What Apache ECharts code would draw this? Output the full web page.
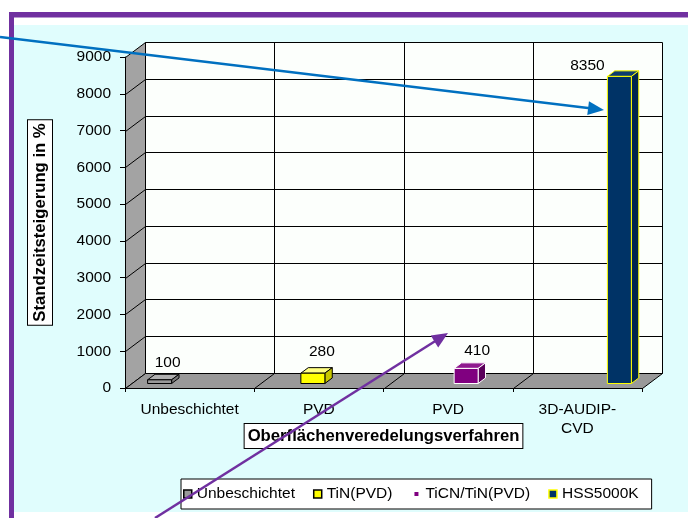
<!DOCTYPE html>
<html>
<head>
<meta charset="utf-8">
<script src="https://cdn.jsdelivr.net/npm/echarts@6/dist/echarts.min.js"></script>
<style>
  html, body { margin: 0; padding: 0; background: #fff; }
  #chart { width: 688px; height: 518px; }
</style>
</head>
<body>
<div id="chart"></div>
<script>
// ---- data ----
const categories = ['Unbeschichtet', 'PVD', 'PVD', '3D-AUDIP-\nCVD'];
const seriesNames = ['Unbeschichtet', 'TiN(PVD)', 'TiCN/TiN(PVD)', 'HSS5000K'];
const unbeschichtet = [100, null, null, null];
const tinPvd = [null, 280, null, null];
const ticnTinPvd = [null, null, 410, null];
const hss5000k = [null, null, null, 8350];
const seriesValues = [unbeschichtet, tinPvd, ticnTinPvd, hss5000k];
const yMin = 0, yMax = 9000, yStep = 1000;
const yAxisTitle = 'Standzeitsteigerung in %';
const xAxisTitle = 'Oberflächenveredelungsverfahren';

// ---- look ----
const FONT = '"Liberation Sans", Arial, sans-serif';
const DX = 20, DY = -15;          // depth of the walls / floor
const F0 = 0.3, F1 = 0.67;        // front/back depth of the columns
const SLOT = 0.1857;              // column width as part of a category band
const BAR_STYLE = [
  { front: '#999999', top: '#b0b0b0', side: '#7a7a7a', edge: '#000000' },
  { front: '#ffff00', top: '#ffff80', side: '#c8c800', edge: '#000000' },
  { front: '#800080', top: '#8f1a8f', side: '#5a005a', edge: '#ffffff' },
  { front: '#003366', top: '#0d3d6e', side: '#00264d', edge: '#ffff00' }
];
const LABEL_OFFSET = [[14, -22], [15, -26], [17, -22], [-26, -15]];

const px = v => Math.round(v) + 0.5;

function line(x1, y1, x2, y2, color) {
  return { type: 'line', shape: { x1: px(x1), y1: px(y1), x2: px(x2), y2: px(y2) },
           style: { stroke: color || '#000', lineWidth: 1 } };
}

function renderFrame(params, api) {
  const band = api.size([1, 0])[0];
  const n = categories.length;
  const left = api.coord([0, yMin])[0] - band / 2;
  const right = left + band * n;
  const yb = api.coord([0, yMin])[1];
  const yt = api.coord([0, yMax])[1];
  const ch = [];
  // back wall
  ch.push({ type: 'polygon',
    shape: { points: [[px(left + DX), px(yt + DY)], [px(right + DX), px(yt + DY)],
                      [px(right + DX), px(yb + DY)], [px(left + DX), px(yb + DY)]] },
    style: { fill: '#fcfffc', stroke: '#000', lineWidth: 1 } });
  for (let v = yMin + yStep; v < yMax; v += yStep) {
    const y = api.coord([0, v])[1];
    ch.push(line(left + DX, y + DY, right + DX, y + DY));
  }
  for (let k = 1; k < n; k++) {
    const x = left + band * k;
    ch.push(line(x + DX, yt + DY, x + DX, yb + DY));
  }
  // side wall
  ch.push({ type: 'polygon',
    shape: { points: [[px(left), px(yb)], [px(left), px(yt)], [px(left + DX), px(yt + DY)], [px(left + DX), px(yb + DY)]] },
    style: { fill: '#a3a3a3', stroke: '#000', lineWidth: 1 } });
  for (let v = yMin + yStep; v < yMax; v += yStep) {
    const y = api.coord([0, v])[1];
    ch.push(line(left, y, left + DX, y + DY));
  }
  // floor
  ch.push({ type: 'polygon',
    shape: { points: [[px(left), px(yb)], [px(right), px(yb)], [px(right + DX), px(yb + DY)], [px(left + DX), px(yb + DY)]] },
    style: { fill: '#999999', stroke: '#000', lineWidth: 1 } });
  for (let k = 1; k < n; k++) {
    const x = left + band * k;
    ch.push(line(x, yb, x + DX, yb + DY));
  }
  return { type: 'group', children: ch };
}

function makeColumn(s) {
  const st = BAR_STYLE[s];
  return function (params, api) {
    const i = api.value(0), v = api.value(1);
    const band = api.size([1, 0])[0];
    const w = band * SLOT;
    const base = api.coord([i, yMin]);
    const top = api.coord([i, v]);
    const x0 = base[0] - 2 * w + s * w, x1 = x0 + w;
    const fx = DX * F0, fy = DY * F0, bx = DX * F1, by = DY * F1;
    const yb = base[1], yt = top[1];
    const edge = { stroke: st.edge, lineWidth: 1 };
    return { type: 'group', children: [
      { type: 'polygon', shape: { points: [[x0 + fx, yt + fy], [x1 + fx, yt + fy], [x1 + bx, yt + by], [x0 + bx, yt + by]] },
        style: Object.assign({ fill: st.top }, edge) },
      { type: 'polygon', shape: { points: [[x1 + fx, yt + fy], [x1 + bx, yt + by], [x1 + bx, yb + by], [x1 + fx, yb + fy]] },
        style: Object.assign({ fill: st.side }, edge) },
      { type: 'polygon', shape: { points: [[x0 + fx, yt + fy], [x1 + fx, yt + fy], [x1 + fx, yb + fy], [x0 + fx, yb + fy]] },
        style: Object.assign({ fill: st.front }, edge) },
      { type: 'text', x: (x0 + x1) / 2 + LABEL_OFFSET[s][0], y: yt + LABEL_OFFSET[s][1],
        style: { text: String(v), fill: '#000', font: '15.5px ' + FONT, align: 'center', verticalAlign: 'middle' } }
    ] };
  };
}

function arrow(x1, y1, x2, y2, color) {
  const a = Math.atan2(y2 - y1, x2 - x1);
  const len = 16, half = 7;
  const bx = x2 - len * Math.cos(a), by = y2 - len * Math.sin(a);
  const nx = -Math.sin(a), ny = Math.cos(a);
  return [
    { type: 'line', z: 100, shape: { x1: x1, y1: y1, x2: bx + 2 * Math.cos(a), y2: by + 2 * Math.sin(a) },
      style: { stroke: color, lineWidth: 2.5 } },
    { type: 'polygon', z: 100, shape: { points: [[x2, y2], [bx + nx * half, by + ny * half], [bx - nx * half, by - ny * half]] },
      style: { fill: color } }
  ];
}

const chart = echarts.init(document.getElementById('chart'), null, { renderer: 'canvas' });

const series = [{
  type: 'custom', coordinateSystem: 'cartesian2d', data: [[0, 0]], z: 1, silent: true, clip: false,
  renderItem: renderFrame
}];
seriesValues.forEach((vals, s) => {
  series.push({
    type: 'custom', name: seriesNames[s], coordinateSystem: 'cartesian2d', z: 3, clip: false,
    itemStyle: { color: BAR_STYLE[s].front },
    encode: { x: 0, y: 1 },
    data: vals.map((v, i) => (v == null ? null : [i, v])).filter(d => d),
    renderItem: makeColumn(s)
  });
});

const titleStyle = {
  color: '#000', fontWeight: 'bold', fontSize: 16.7, fontFamily: FONT, lineHeight: 19,
  backgroundColor: '#fff', borderColor: '#000', borderWidth: 1, padding: [3, 3, 2, 3]
};

chart.setOption({
  backgroundColor: '#ffffff',
  animation: false,
  textStyle: { fontFamily: FONT },
  graphic: [
    { type: 'rect', z: -10, shape: { x: 14, y: 25, width: 674, height: 487 }, style: { fill: '#e0fdfd' } },
    { type: 'rect', z: -9, shape: { x: 9, y: 12, width: 679, height: 5.5 }, style: { fill: '#7030a0' } },
    { type: 'rect', z: -9, shape: { x: 9, y: 12, width: 5, height: 506 }, style: { fill: '#7030a0' } }
  ].concat(arrow(0, 37, 604, 110, '#0070c0'), arrow(155, 518, 448, 333, '#7030a0')),
  grid: { left: 125, top: 57, width: 517, height: 331 },
  xAxis: {
    type: 'category', data: categories, z: 5,
    axisLine: { show: true, lineStyle: { color: '#000', width: 1 } },
    axisTick: { show: true, length: 4, lineStyle: { color: '#000' } },
    axisLabel: { color: '#000', fontSize: 15.5, fontFamily: FONT, margin: 12, lineHeight: 19 },
    splitLine: { show: false },
    name: xAxisTitle, nameLocation: 'middle', nameGap: 36, nameMoveOverlap: false,
    nameTextStyle: titleStyle
  },
  yAxis: {
    type: 'value', min: yMin, max: yMax, interval: yStep, z: 5,
    axisLine: { show: true, lineStyle: { color: '#000', width: 1 } },
    axisTick: { show: true, length: 5, lineStyle: { color: '#000' } },
    axisLabel: { color: '#000', fontSize: 15.5, fontFamily: FONT, margin: 14, formatter: v => String(v) },
    splitLine: { show: false },
    name: yAxisTitle, nameLocation: 'middle', nameGap: 73, nameRotate: 90, nameMoveOverlap: false,
    nameTextStyle: titleStyle
  },
  legend: {
    left: 181, top: 479, orient: 'horizontal', selectedMode: false,
    itemWidth: 8, itemHeight: 8, itemGap: 18,
    backgroundColor: '#fff', borderColor: '#000', borderWidth: 1, borderRadius: 0,
    padding: [7, 13, 7, 2],
    textStyle: { color: '#000', fontSize: 15.5, fontFamily: FONT },
    data: [
      { name: seriesNames[0], icon: 'rect', itemStyle: { color: '#999999', borderColor: '#000', borderWidth: 1.5 } },
      { name: seriesNames[1], icon: 'rect', itemStyle: { color: '#ffff00', borderColor: '#000', borderWidth: 1.5 } },
      { name: seriesNames[2], icon: 'rect', itemStyle: { color: '#800080', borderColor: '#fff', borderWidth: 4 } },
      { name: seriesNames[3], icon: 'rect', itemStyle: { color: '#003366', borderColor: '#ffff00', borderWidth: 1.5 } }
    ]
  },
  series: series
});
</script>
</body>
</html>
